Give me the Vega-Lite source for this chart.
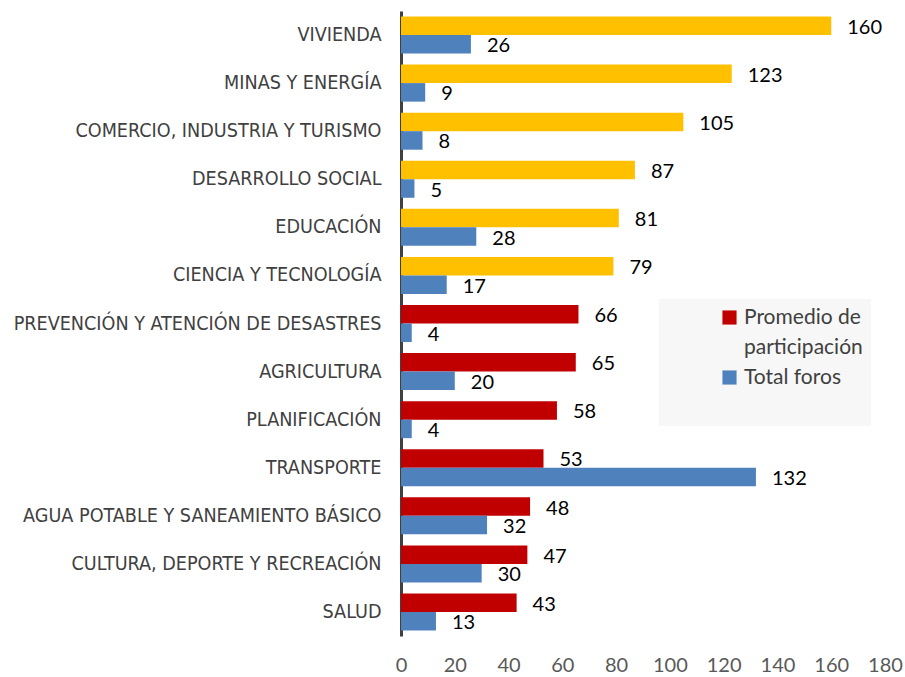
{
  "$schema": "https://vega.github.io/schema/vega-lite/v6.json",
  "width": 484,
  "height": 625,
  "autosize": {"type": "none"},
  "padding": {"left": 401, "top": 11, "right": 20, "bottom": 41},
  "background": "white",
  "data": {
    "values": [
      {"tema": "VIVIENDA", "serie": "Promedio de participación", "valor": 160},
      {"tema": "VIVIENDA", "serie": "Total foros", "valor": 26},
      {"tema": "MINAS Y ENERGÍA", "serie": "Promedio de participación", "valor": 123},
      {"tema": "MINAS Y ENERGÍA", "serie": "Total foros", "valor": 9},
      {"tema": "COMERCIO, INDUSTRIA Y TURISMO", "serie": "Promedio de participación", "valor": 105},
      {"tema": "COMERCIO, INDUSTRIA Y TURISMO", "serie": "Total foros", "valor": 8},
      {"tema": "DESARROLLO SOCIAL", "serie": "Promedio de participación", "valor": 87},
      {"tema": "DESARROLLO SOCIAL", "serie": "Total foros", "valor": 5},
      {"tema": "EDUCACIÓN", "serie": "Promedio de participación", "valor": 81},
      {"tema": "EDUCACIÓN", "serie": "Total foros", "valor": 28},
      {"tema": "CIENCIA Y TECNOLOGÍA", "serie": "Promedio de participación", "valor": 79},
      {"tema": "CIENCIA Y TECNOLOGÍA", "serie": "Total foros", "valor": 17},
      {"tema": "PREVENCIÓN Y ATENCIÓN DE DESASTRES", "serie": "Promedio de participación", "valor": 66},
      {"tema": "PREVENCIÓN Y ATENCIÓN DE DESASTRES", "serie": "Total foros", "valor": 4},
      {"tema": "AGRICULTURA", "serie": "Promedio de participación", "valor": 65},
      {"tema": "AGRICULTURA", "serie": "Total foros", "valor": 20},
      {"tema": "PLANIFICACIÓN", "serie": "Promedio de participación", "valor": 58},
      {"tema": "PLANIFICACIÓN", "serie": "Total foros", "valor": 4},
      {"tema": "TRANSPORTE", "serie": "Promedio de participación", "valor": 53},
      {"tema": "TRANSPORTE", "serie": "Total foros", "valor": 132},
      {"tema": "AGUA POTABLE Y SANEAMIENTO BÁSICO", "serie": "Promedio de participación", "valor": 48},
      {"tema": "AGUA POTABLE Y SANEAMIENTO BÁSICO", "serie": "Total foros", "valor": 32},
      {"tema": "CULTURA, DEPORTE Y RECREACIÓN", "serie": "Promedio de participación", "valor": 47},
      {"tema": "CULTURA, DEPORTE Y RECREACIÓN", "serie": "Total foros", "valor": 30},
      {"tema": "SALUD", "serie": "Promedio de participación", "valor": 43},
      {"tema": "SALUD", "serie": "Total foros", "valor": 13}
    ]
  },
  "encoding": {
    "y": {
      "field": "tema",
      "type": "nominal",
      "sort": null,
      "scale": {"paddingInner": 0.23, "paddingOuter": 0.115},
      "axis": {
        "title": null,
        "ticks": false,
        "domainColor": "#404040",
        "domainWidth": 3,
        "labelPadding": 20,
        "labelFont": "DejaVu Sans Condensed",
        "labelFontSize": 19.6,
        "labelColor": "#404040",
        "labelLimit": 500
      }
    },
    "yOffset": {"field": "serie", "type": "nominal", "sort": ["Promedio de participación", "Total foros"]},
    "x": {
      "field": "valor",
      "type": "quantitative",
      "scale": {"domain": [0, 180], "nice": false},
      "axis": {
        "title": null,
        "values": [0, 20, 40, 60, 80, 100, 120, 140, 160, 180],
        "grid": false,
        "domain": false,
        "ticks": false,
        "labelPadding": 19,
        "labelFont": "Lato",
        "labelFontSize": 20,
        "labelColor": "#595959",
        "labelFlush": false
      }
    }
  },
  "layer": [
    {
      "mark": {"type": "bar"},
      "encoding": {
        "color": {
          "condition": {"test": "datum.serie === 'Promedio de participación' && datum.valor > 70", "value": "#FFC000"},
          "field": "serie",
          "type": "nominal",
          "scale": {"domain": ["Promedio de participación", "Total foros"], "range": ["#C00000", "#4F81BD"]},
          "legend": {
            "title": null,
            "orient": "none",
            "legendX": 258,
            "legendY": 288,
            "fillColor": "#F7F7F7",
            "padding": 8,
            "symbolOffset": 52,
            "symbolType": "square",
            "symbolSize": 200,
            "symbolStrokeWidth": 0,
            "labelFont": "Lato",
            "labelFontSize": 21,
            "labelColor": "#404040",
            "labelLimit": 300,
            "rowPadding": 8,
            "labelExpr": "datum.label === 'Promedio de participación' ? ['Promedio de', 'participación'] : ['Total foros', '']"
          }
        }
      }
    },
    {
      "mark": {"type": "text", "align": "left", "baseline": "middle", "dx": 16, "dy": 2, "font": "Lato", "fontSize": 20, "color": "black"},
      "encoding": {
        "text": {"field": "valor", "type": "quantitative"}
      }
    }
  ],
  "config": {
    "view": {"stroke": null},
    "style": {"guide-label": {"lineHeight": 30}}
  }
}
